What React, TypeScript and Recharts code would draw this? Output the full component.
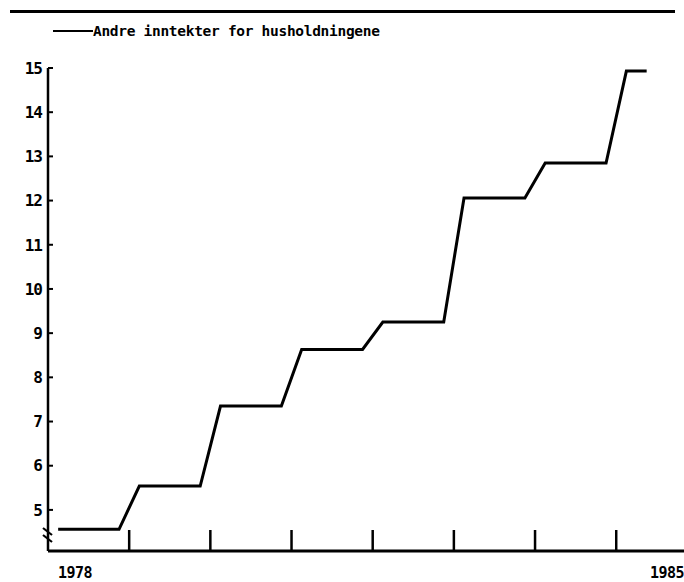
import { Legend, Line, LineChart, XAxis, YAxis } from "recharts";

// quarterly figures, 1978 K1 .. 1985 K2 (each year holds one level)
const startYear = 1978;
const quarterValues = [
  4.56, 4.56, 4.56, 4.56,
  5.54, 5.54, 5.54, 5.54,
  7.35, 7.35, 7.35, 7.35,
  8.63, 8.63, 8.63, 8.63,
  9.25, 9.25, 9.25, 9.25,
  12.06, 12.06, 12.06, 12.06,
  12.85, 12.85, 12.85, 12.85,
  14.93, 14.93,
];
const yTicks = [5, 6, 7, 8, 9, 10, 11, 12, 13, 14, 15];
const yearMarks = [1, 2, 3, 4, 5, 6, 7];
const edgeLabels = ["1978", "1985"];
const seriesName = "Andre inntekter for husholdningene";

const W = 684;
const H = 582;
const Y_AXIS_W = 48;
const X_AXIS_H = 31;
const TOP = 68;
const X_END = 7.835;
const Y_MIN = 4.07;
const FONT = "'DejaVu Sans Mono', monospace";

const data = quarterValues.map((value, i) => ({
  t: (i + 0.5) / 4,
  label: `${startYear + Math.floor(i / 4)} K${(i % 4) + 1}`,
  value,
}));

function YTick({ x, y, payload }: any) {
  return (
    <g>
      <line x1={x} x2={x + 5} y1={y} y2={y} stroke="#000" strokeWidth={2} />
      <text
        x={x - 6}
        y={y}
        dy="0.36em"
        textAnchor="end"
        fontFamily={FONT}
        fontWeight="bold"
        fontSize={16}
        letterSpacing={-1}
        fill="#000"
      >
        {payload.value}
      </text>
    </g>
  );
}

function XTick({ x, y, payload }: any) {
  const v = payload.value;
  const textProps = {
    y: y + 27,
    fontFamily: FONT,
    fontWeight: "bold" as const,
    fontSize: 15,
    letterSpacing: -0.5,
    fill: "#000",
  };
  if (v === 0) {
    return (
      <text x={x + 10} textAnchor="start" {...textProps}>
        {edgeLabels[0]}
      </text>
    );
  }
  if (v === X_END) {
    return (
      <text x={x} textAnchor="end" {...textProps}>
        {edgeLabels[1]}
      </text>
    );
  }
  return <line x1={x} x2={x} y1={y} y2={y - 21} stroke="#000" strokeWidth={2.5} />;
}

function LegendBox() {
  return (
    <div
      style={{
        borderTop: "3px solid #000",
        paddingTop: 9,
        fontFamily: FONT,
        fontWeight: "bold",
        fontSize: 14.5,
        color: "#000",
      }}
    >
      <div style={{ display: "flex", alignItems: "center", marginLeft: 43, height: 17 }}>
        <span style={{ display: "inline-block", width: 40, borderTop: "2.5px solid #000" }} />
        <span style={{ letterSpacing: -0.3 }}>{seriesName}</span>
      </div>
    </div>
  );
}

// axis break on the value axis, just above the baseline
function AxisBreak() {
  const ax = Y_AXIS_W;
  const base = H - X_AXIS_H;
  return (
    <g>
      <rect x={ax - 4} y={base - 25} width={8} height={17} fill="#fff" />
      <line x1={ax - 5} y1={base - 23} x2={ax + 4} y2={base - 16} stroke="#000" strokeWidth={2.2} />
      <line x1={ax - 5} y1={base - 16} x2={ax + 4} y2={base - 9} stroke="#000" strokeWidth={2.2} />
    </g>
  );
}

export default function App() {
  return (
    <div style={{ position: "absolute", left: 0, top: 0, width: W, height: H, background: "#fff" }}>
      <LineChart width={W} height={H} data={data} margin={{ top: TOP, right: 0, bottom: 0, left: 0 }}>
        <XAxis
          type="number"
          dataKey="t"
          domain={[0, X_END]}
          ticks={[0, ...yearMarks, X_END]}
          interval={0}
          height={X_AXIS_H}
          tickSize={0}
          tickMargin={0}
          tickLine={false}
          axisLine={{ stroke: "#000", strokeWidth: 3 }}
          tick={<XTick />}
          allowDataOverflow
        />
        <YAxis
          type="number"
          domain={[Y_MIN, 15]}
          ticks={yTicks}
          interval={0}
          width={Y_AXIS_W}
          tickSize={0}
          tickMargin={0}
          tickLine={false}
          axisLine={{ stroke: "#000", strokeWidth: 2.5 }}
          tick={<YTick />}
          allowDataOverflow
        />
        <Legend
          layout="horizontal"
          verticalAlign="middle"
          align="center"
          wrapperStyle={{ top: 10, left: 10, width: 665 }}
          content={() => <LegendBox />}
        />
        <Line
          type="linear"
          dataKey="value"
          name={seriesName}
          stroke="#000"
          strokeWidth={3}
          dot={false}
          isAnimationActive={false}
        />
        <AxisBreak />
      </LineChart>
    </div>
  );
}
